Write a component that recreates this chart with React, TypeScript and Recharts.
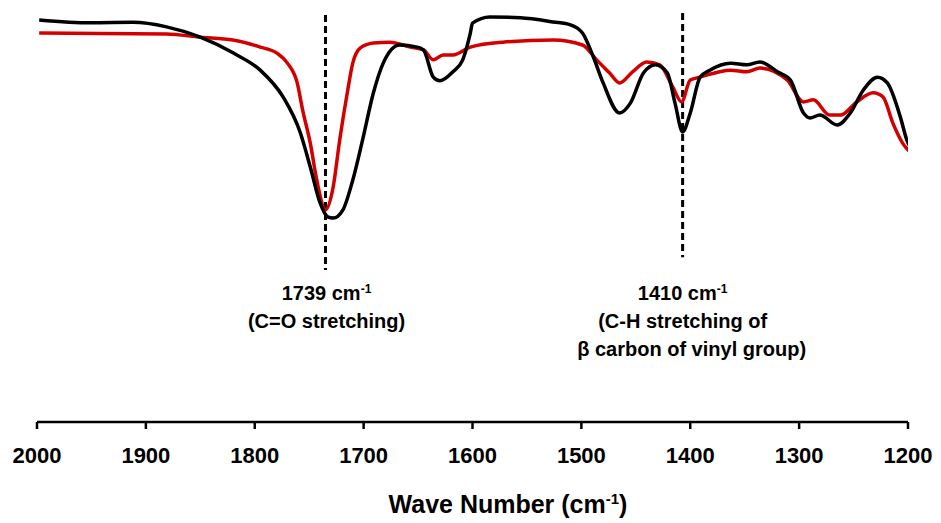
import React from 'react';
import { LineChart, Line, XAxis, YAxis, ReferenceLine } from 'recharts';

// wavenumber (cm-1) and relative transmittance
const blackWave = [1998, 1951, 1912, 1881, 1850, 1820, 1795, 1774, 1758, 1749, 1740, 1733, 1728, 1719, 1710, 1701, 1691, 1682, 1667, 1651, 1645, 1636, 1630, 1618, 1609, 1602, 1600, 1584, 1556, 1526, 1510, 1499, 1489, 1480, 1465, 1455, 1443, 1432, 1421, 1414, 1407, 1400, 1391, 1382, 1363, 1348, 1336, 1320, 1308, 1296, 1290, 1281, 1265, 1253, 1241, 1228, 1219, 1207, 1201, 1192];
const blackT = [97.6, 96.9, 97.0, 95.9, 93.4, 89.6, 85.4, 78.9, 70.1, 61.9, 53.2, 49.8, 49.5, 51.5, 58.7, 68.4, 79.9, 87.1, 91.5, 91.0, 90.3, 83.7, 82.8, 85.0, 87.9, 94.4, 96.8, 98.3, 98.1, 97.1, 96.4, 94.4, 88.6, 82.3, 75.0, 77.4, 84.7, 86.7, 84.7, 77.4, 70.4, 75.0, 83.7, 85.4, 87.1, 86.7, 87.4, 85.0, 83.0, 75.0, 73.8, 74.5, 72.1, 75.0, 80.6, 83.7, 82.3, 74.0, 68.4, 64.8];

const redWave = [1998, 1942, 1881, 1850, 1820, 1795, 1780, 1770, 1761, 1756, 1749, 1743, 1735, 1728, 1722, 1715, 1710, 1703, 1691, 1676, 1657, 1645, 1636, 1627, 1618, 1602, 1572, 1526, 1499, 1486, 1474, 1465, 1453, 1440, 1428, 1416, 1408, 1400, 1391, 1363, 1348, 1336, 1311, 1296, 1287, 1272, 1262, 1247, 1232, 1223, 1214, 1205, 1198];
const redT = [94.4, 94.3, 94.2, 93.4, 92.7, 91.0, 89.6, 87.1, 82.3, 75.7, 67.7, 58.7, 51.5, 57.0, 68.4, 79.9, 87.1, 90.8, 92.0, 92.2, 91.0, 90.3, 87.9, 89.1, 89.1, 91.0, 92.2, 92.7, 91.5, 87.9, 84.7, 82.3, 85.0, 87.4, 86.7, 81.3, 77.7, 83.0, 83.7, 85.4, 85.0, 85.9, 83.0, 77.7, 78.2, 74.5, 74.5, 77.7, 79.9, 78.9, 72.6, 67.7, 65.5];

const xTicks = [2000, 1900, 1800, 1700, 1600, 1500, 1400, 1300, 1200];

const blackData = blackWave.map((w, i) => ({ w, t: blackT[i] }));
const redData = redWave.map((w, i) => ({ w, t: redT[i] }));

const FONT = '"Liberation Sans", Arial, Helvetica, sans-serif';

const AxisTitle = (props: any) => {
  const { viewBox } = props;
  return (
    <text x={viewBox.x + 471} y={513} textAnchor="middle" fontFamily={FONT} fontWeight="bold" fontSize={25} fill="#000">
      Wave Number (cm<tspan dy={-9} fontSize={15}>-1</tspan><tspan dy={9}>)</tspan>
    </text>
  );
};

const PeakLabel = ({ x, lines }: { x: number; lines: { text: string; dx?: number; sup?: boolean }[] }) => (
  <g>
    {lines.map((l, i) => (
      <text key={i} x={x + (l.dx || 0)} y={300 + i * 28} textAnchor="middle" fontFamily={FONT} fontWeight="bold" fontSize={20} fill="#000">
        {l.sup ? (
          <>
            {l.text}<tspan dy={-7} fontSize={12}>-1</tspan>
          </>
        ) : l.text}
      </text>
    ))}
  </g>
);

export default function App() {
  return (
    <div style={{ width: 941, height: 523, background: '#fff' }}>
      <style>{`body{margin:0}`}</style>
      <LineChart width={941} height={523} margin={{ top: 10, right: 33, left: 37, bottom: 0 }}>
        <XAxis
          type="number"
          dataKey="w"
          reversed
          domain={[1200, 2000]}
          ticks={xTicks}
          allowDataOverflow
          height={101}
          stroke="#000"
          strokeWidth={2.5}
          tickSize={7}
          tickMargin={18}
          tick={{ fill: '#000', fontSize: 22, fontWeight: 'bold', fontFamily: FONT }}
          label={<AxisTitle />}
        />
        <YAxis hide domain={[0, 100]} width={0} />
        <ReferenceLine
          segment={[{ x: 1735, y: 98.8 }, { x: 1735, y: 36.9 }]}
          stroke="#000"
          strokeWidth={3}
          strokeDasharray="7 4"
          label={(p: any) => (
            <PeakLabel x={p.viewBox.x + 1} lines={[{ text: '1739 cm', sup: true }, { text: '(C=O stretching)' }]} />
          )}
        />
        <ReferenceLine
          segment={[{ x: 1407, y: 99.3 }, { x: 1407, y: 40.0 }]}
          stroke="#000"
          strokeWidth={3}
          strokeDasharray="7 4"
          label={(p: any) => (
            <PeakLabel
              x={p.viewBox.x}
              lines={[
                { text: '1410 cm', sup: true },
                { text: '(C-H stretching of' },
                { text: 'β carbon of vinyl group)', dx: 9 },
              ]}
            />
          )}
        />
        <Line data={redData} dataKey="t" type="monotone" stroke="#d40000" strokeWidth={3.5} dot={false} isAnimationActive={false} />
        <Line data={blackData} dataKey="t" type="monotone" stroke="#000" strokeWidth={3.5} dot={false} isAnimationActive={false} />
      </LineChart>
    </div>
  );
}
